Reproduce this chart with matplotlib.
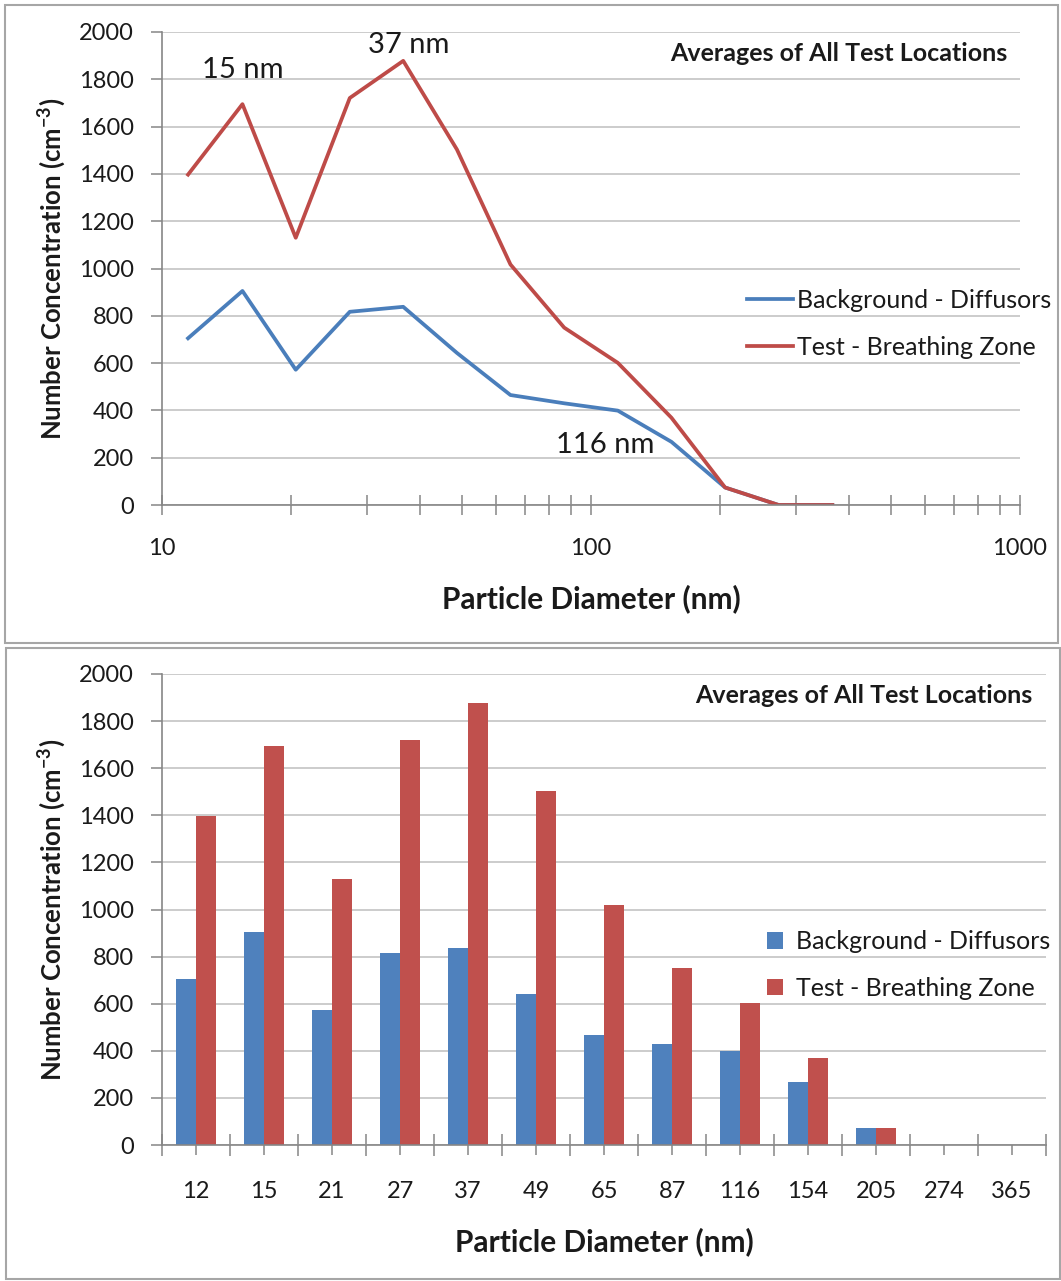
import matplotlib
matplotlib.use("Agg")
import matplotlib.pyplot as plt
import numpy as np
from matplotlib.patches import Rectangle
from matplotlib.ticker import LogLocator, NullFormatter, FixedLocator

plt.rcParams['font.family'] = ['Lato', 'DejaVu Sans']
plt.rcParams['mathtext.fontset'] = 'custom'
plt.rcParams['mathtext.bf'] = 'Lato:bold'
plt.rcParams['mathtext.rm'] = 'Lato'

# particle size channels (nm) and their rounded labels
diam_nm = [11.5, 15.4, 20.5, 27.4, 36.5, 48.7, 64.9, 86.6, 115.5, 154.0, 205.4, 273.8, 365.2]
diam_labels = ['12', '15', '21', '27', '37', '49', '65', '87', '116', '154', '205', '274', '365']

background = [705, 905, 572, 817, 838, 643, 465, 430, 399, 267, 74, 0, 0]
test_bz = [1397, 1695, 1130, 1721, 1878, 1503, 1017, 750, 601, 369, 74, 0, 0]

series_names = ['Background - Diffusors', 'Test - Breathing Zone']
title = 'Averages of All Test Locations'

blue_line, red_line = '#4A7EBB', '#BE4B48'
blue_bar, red_bar = '#4F81BD', '#C0504D'
grid_c = '#BFBFBF'
axis_c = '#868686'
txt_c = '#1A1A1A'

W, H = 1061, 1281
fig = plt.figure(figsize=(W / 100, H / 100), dpi=100)

def fx(px):
    return px / W

def fy(py):
    return 1 - py / H

# panel frames
fig.patches.append(Rectangle((fx(5), fy(643)), fx(1053), 638 / H, transform=fig.transFigure,
                             fill=False, edgecolor='#A6A6A6', lw=1.5))
fig.patches.append(Rectangle((fx(6), fy(1279)), fx(1054), 631 / H, transform=fig.transFigure,
                             fill=False, edgecolor='#A6A6A6', lw=1.5))

ylabel = r'Number Concentration (cm$^{\mathbf{-3}}$)'

def style_axes(ax):
    for s in ['top', 'right']:
        ax.spines[s].set_visible(False)
    for s in ['left', 'bottom']:
        ax.spines[s].set_color(axis_c)
        ax.spines[s].set_linewidth(1.2)
    ax.set_ylim(0, 2000)
    ax.set_yticks(range(0, 2001, 200))
    ax.yaxis.grid(True, color=grid_c, lw=1.1)
    ax.set_axisbelow(True)
    ax.tick_params(axis='y', direction='out', length=8, width=1.1, color=axis_c,
                   labelsize=17, labelcolor=txt_c, pad=12)
    ax.set_ylabel(ylabel, fontsize=18.5, fontweight='bold', color=txt_c, labelpad=8)
    ax.set_xlabel('Particle Diameter (nm)', fontsize=21.5, fontweight='bold', color=txt_c, labelpad=18)
    ax.text(0.985, 0.955, title, transform=ax.transAxes, ha='right', va='center',
            fontsize=18, fontweight='bold', color=txt_c)

# ---- top: line chart on log axis
ax1 = fig.add_axes([fx(162), fy(505), fx(1020 - 162), (505 - 32) / H])
style_axes(ax1)
ax1.plot(diam_nm, background, color=blue_line, lw=2.7, label=series_names[0])
ax1.plot(diam_nm, test_bz, color=red_line, lw=2.7, label=series_names[1])
ax1.set_xscale('log')
ax1.set_xlim(10, 1000)
ax1.xaxis.set_major_locator(FixedLocator([10, 100, 1000]))
ax1.set_xticklabels(['10', '100', '1000'])
ax1.xaxis.set_minor_locator(LogLocator(base=10, subs=np.arange(2, 10)))
ax1.xaxis.set_minor_formatter(NullFormatter())
ax1.tick_params(axis='x', which='both', direction='inout', length=14, width=1.1, color=axis_c,
                labelsize=17, labelcolor=txt_c, pad=17)
ax1.text(15.4, 1840, '15 nm', fontsize=21, ha='center', va='center', color=txt_c)
ax1.text(37.5, 1945, '37 nm', fontsize=21, ha='center', va='center', color=txt_c)
ax1.text(108, 254, '116 nm', fontsize=21, ha='center', va='center', color=txt_c)
ax1.legend(loc='upper left', bbox_to_anchor=(fx(747), fy(289)), bbox_transform=fig.transFigure,
           frameon=False, fontsize=18, handlelength=1.85, handletextpad=0.15,
           labelspacing=0.95, borderpad=0, borderaxespad=0, labelcolor=txt_c)

# ---- bottom: grouped bars
ax2 = fig.add_axes([fx(162), fy(1145), fx(1046 - 162), (1145 - 674) / H])
style_axes(ax2)
x = np.arange(len(diam_labels))
w = 0.29
ax2.bar(x - w / 2, background, w, color=blue_bar, label=series_names[0])
ax2.bar(x + w / 2, test_bz, w, color=red_bar, label=series_names[1])
ax2.set_xlim(-0.5, len(diam_labels) - 0.5)
ax2.set_xticks(x)
ax2.set_xticklabels(diam_labels)
ax2.xaxis.set_minor_locator(FixedLocator(np.arange(-0.5, len(diam_labels), 1.0)))
ax2.tick_params(axis='x', which='major', direction='out', length=7, width=1.1, color=axis_c,
                labelsize=17, labelcolor=txt_c, pad=19)
ax2.tick_params(axis='x', which='minor', direction='inout', length=16, width=1.1, color=axis_c)
ax2.legend(loc='upper left', bbox_to_anchor=(fx(767), fy(930)), bbox_transform=fig.transFigure,
           frameon=False, fontsize=18, handlelength=0.65, handleheight=0.65, handletextpad=0.5,
           labelspacing=0.95, borderpad=0, borderaxespad=0, labelcolor=txt_c)

fig.savefig('out.png', dpi=100)
plt.close(fig)
